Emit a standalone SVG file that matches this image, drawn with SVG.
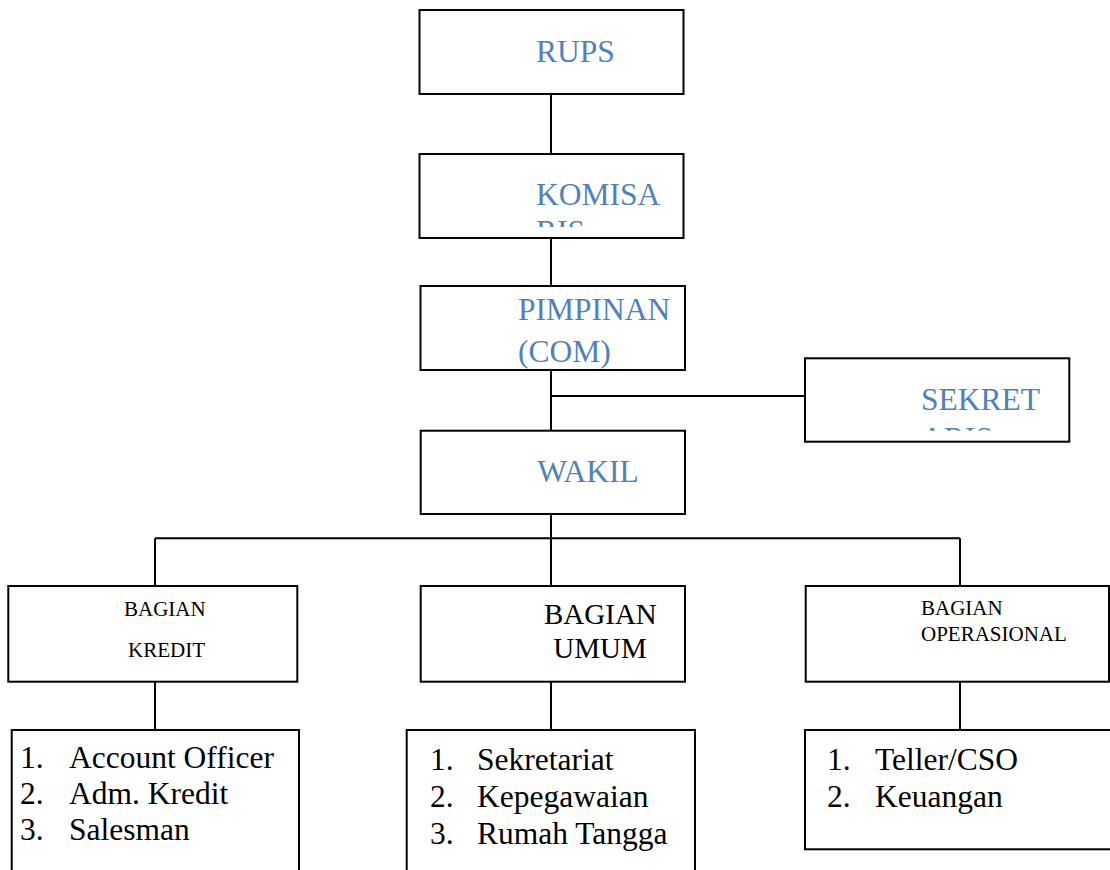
<svg xmlns="http://www.w3.org/2000/svg" width="1110" height="870" viewBox="0 0 1110 870">
<style>
.box{fill:#fff;stroke:#000;stroke-width:2}
.ln{stroke:#000;stroke-width:2;fill:none}
.blue{font-family:"Liberation Serif",serif;font-size:31.5px;fill:#4F81BD}
.sm{font-family:"Liberation Serif",serif;font-size:21px;fill:#000}
.md{font-family:"Liberation Serif",serif;font-size:29px;fill:#000}
.lst{font-family:"Liberation Serif",serif;font-size:31.5px;fill:#000}
</style>
<defs>
<clipPath id="clipKom"><rect x="420" y="150" width="264" height="77"/></clipPath>
<clipPath id="clipSek"><rect x="805" y="355" width="264" height="75.7"/></clipPath>
</defs>
<rect width="1110" height="870" fill="#fff"/>
<g id="connectors">
<line class="ln" x1="551" y1="94" x2="551" y2="154"/>
<line class="ln" x1="551" y1="238" x2="551" y2="286"/>
<line class="ln" x1="551" y1="370" x2="551" y2="431"/>
<line class="ln" x1="551" y1="396" x2="805" y2="396"/>
<line class="ln" x1="551" y1="514" x2="551" y2="586"/>
<line class="ln" x1="155" y1="538.3" x2="960" y2="538.3"/>
<line class="ln" x1="155" y1="538.3" x2="155" y2="586"/>
<line class="ln" x1="960" y1="538.3" x2="960" y2="586"/>
<line class="ln" x1="155" y1="682" x2="155" y2="730"/>
<line class="ln" x1="551" y1="682" x2="551" y2="730"/>
<line class="ln" x1="960" y1="682" x2="960" y2="730"/>
</g>
<g id="rups">
<rect class="box" x="419.5" y="10" width="264" height="84"/>
<text class="blue" x="536" y="62">RUPS</text>
</g>
<g id="komisaris">
<rect class="box" x="419.5" y="154" width="264" height="84"/>
<g clip-path="url(#clipKom)">
<text class="blue" x="536" y="205">KOMISA</text>
<text class="blue" x="536" y="242">RIS</text>
</g>
</g>
<g id="pimpinan">
<rect class="box" x="420.5" y="286" width="264.5" height="84"/>
<text class="blue" x="518" y="320">PIMPINAN</text>
<text class="blue" x="518" y="361.7">(COM)</text>
</g>
<g id="sekretaris">
<rect class="box" x="805" y="358.3" width="264.3" height="83.4"/>
<g clip-path="url(#clipSek)">
<text class="blue" x="921" y="410">SEKRET</text>
<text class="blue" x="921" y="449">ARIS</text>
</g>
</g>
<g id="wakil">
<rect class="box" x="420.7" y="430.7" width="264.3" height="83.3"/>
<text class="blue" x="537.3" y="481.7">WAKIL</text>
</g>
<g id="bagian-kredit">
<rect class="box" x="8.3" y="586" width="289" height="95.7"/>
<text class="sm" x="124" y="615.7">BAGIAN</text>
<text class="sm" x="128" y="657.3">KREDIT</text>
</g>
<g id="bagian-umum">
<rect class="box" x="420.7" y="586" width="264.3" height="95.7"/>
<text class="md" x="544" y="624">BAGIAN</text>
<text class="md" x="553.3" y="658.3">UMUM</text>
</g>
<g id="bagian-operasional">
<rect class="box" x="805.7" y="586" width="303.3" height="95.7"/>
<text class="sm" x="921" y="615">BAGIAN</text>
<text class="sm" x="921" y="640.7">OPERASIONAL</text>
</g>
<g id="list-kredit">
<rect class="box" x="11.7" y="730" width="287.3" height="160"/>
<text class="lst" x="20" y="768">1.</text><text class="lst" x="69" y="768">Account Officer</text>
<text class="lst" x="20" y="804">2.</text><text class="lst" x="69" y="804">Adm. Kredit</text>
<text class="lst" x="20" y="840">3.</text><text class="lst" x="69" y="840">Salesman</text>
</g>
<g id="list-umum">
<rect class="box" x="406.7" y="730" width="288.3" height="160"/>
<text class="lst" x="430" y="770">1.</text><text class="lst" x="477" y="770">Sekretariat</text>
<text class="lst" x="430" y="807.3">2.</text><text class="lst" x="477" y="807.3">Kepegawaian</text>
<text class="lst" x="430" y="844.3">3.</text><text class="lst" x="477" y="844.3">Rumah Tangga</text>
</g>
<g id="list-operasional">
<rect class="box" x="805" y="730" width="320" height="119.3"/>
<text class="lst" x="827" y="770">1.</text><text class="lst" x="875" y="770">Teller/CSO</text>
<text class="lst" x="827" y="807.3">2.</text><text class="lst" x="875" y="807.3">Keuangan</text>
</g>
</svg>
